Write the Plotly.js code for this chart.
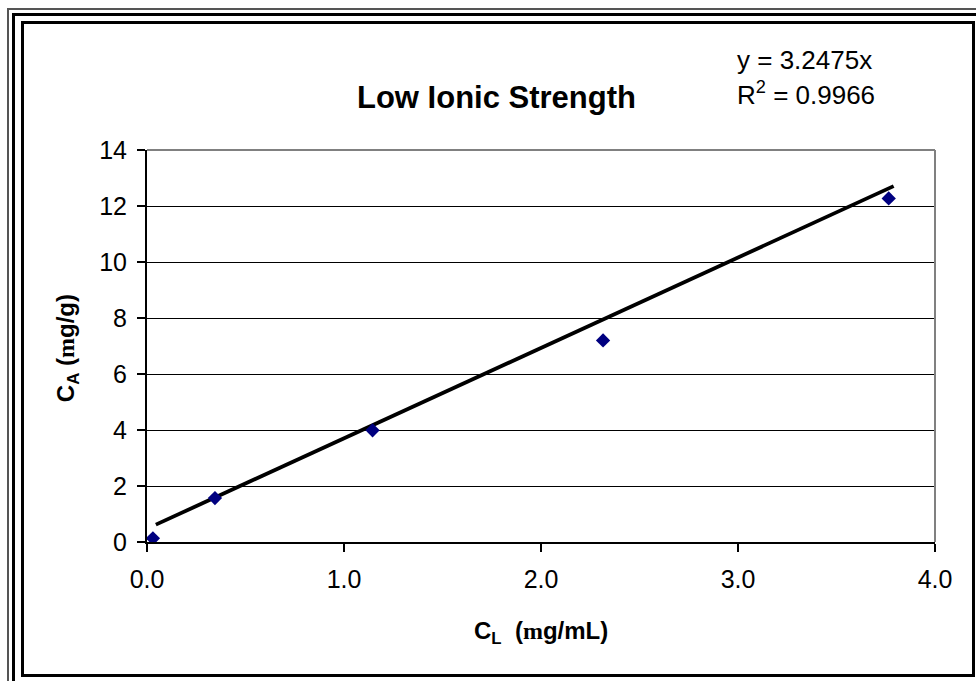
<!DOCTYPE html>
<html>
<head>
<meta charset="utf-8">
<script src="https://cdn.plot.ly/plotly-3.0.1.min.js"></script>
<style>
  html, body { margin: 0; padding: 0; background: #fff; }
  #wrap { position: relative; width: 976px; height: 681px; overflow: hidden; background: #fff; }
  #chart { position: absolute; left: 0; top: 0; width: 976px; height: 681px; }
  .fr { position: absolute; pointer-events: none; }
</style>
</head>
<body>
<div id="wrap">
  <div id="chart"></div>
  <div class="fr" style="left:7px; top:8px; width:969px; height:2px; background:#555;"></div>
  <div class="fr" style="left:7px; top:8px; width:2px; height:673px; background:#555;"></div>
  <div class="fr" style="left:12px; top:13px; width:964px; height:3px; background:#000;"></div>
  <div class="fr" style="left:12px; top:13px; width:3px; height:668px; background:#000;"></div>
  <div class="fr" style="left:21px; top:21px; width:948px; height:650px; border:3px solid #000;"></div>
</div>
<script>
// Data
const cL = [0.03, 0.345, 1.145, 2.315, 3.765];      // C_L (mg/mL)
const cA = [0.13, 1.57, 3.99, 7.2, 12.27];          // C_A (mg/g)
const trendX = [0.045, 3.79];                        // trendline endpoints (x)
const trendY = [0.62, 12.71];                        // trendline endpoints (y)
const xTicks = [0, 1, 2, 3, 4];
const xTickText = ['0.0', '1.0', '2.0', '3.0', '4.0'];
const yTicks = [0, 2, 4, 6, 8, 10, 12, 14];

const titleText = '<b>Low Ionic Strength</b>';
const eqLine1 = 'y = 3.2475x';
const eqLine2 = 'R<sup>2</sup> = 0.9966';
const xTitle = "<b>C<sub>L</sub>  (<span style='font-family:\"Liberation Serif\"'>m</span>g/mL)</b>";
const yTitle = "<b>C<sub>A</sub> (<span style='font-family:\"Liberation Serif\"'>m</span>g/g)</b>";

const FONT = 'Liberation Sans, Arial, sans-serif';

const traces = [
  {
    x: trendX, y: trendY, type: 'scatter', mode: 'lines',
    line: { color: '#000', width: 3.8 }, hoverinfo: 'skip', showlegend: false
  },
  {
    x: cL, y: cA, type: 'scatter', mode: 'markers',
    marker: { symbol: 'diamond', size: 11, color: '#000080', line: { width: 0 } },
    showlegend: false
  }
];

const layout = {
  width: 976, height: 681,
  margin: { l: 147, r: 41, t: 150, b: 139 },
  paper_bgcolor: '#fff', plot_bgcolor: '#fff',
  font: { family: FONT, color: '#000', size: 25 },
  showlegend: false,
  xaxis: {
    range: [0, 4], tickvals: xTicks, ticktext: xTickText,
    showgrid: false, zeroline: false,
    showline: true, linecolor: '#000', linewidth: 2,
    ticks: 'outside', ticklen: 8, tickwidth: 2, tickcolor: '#000',
    ticklabelstandoff: 6,
    tickfont: { family: FONT, size: 25, color: '#000' },
    fixedrange: true
  },
  yaxis: {
    range: [0, 14], tickvals: yTicks,
    showgrid: true, gridcolor: '#000', gridwidth: 1,
    zeroline: false,
    showline: true, linecolor: '#000', linewidth: 2,
    ticks: 'outside', ticklen: 8, tickwidth: 2, tickcolor: '#000',
    ticklabelstandoff: 5,
    tickfont: { family: FONT, size: 25, color: '#000' },
    fixedrange: true
  },
  shapes: [
    { type: 'line', xref: 'paper', yref: 'paper', x0: 0, x1: 1, y0: 1, y1: 1, line: { color: '#808080', width: 2 } },
    { type: 'line', xref: 'paper', yref: 'paper', x0: 1, x1: 1, y0: 0, y1: 1, line: { color: '#808080', width: 2 } }
  ],
  annotations: [
    { text: titleText, xref: 'paper', yref: 'paper', x: 0.444, y: 1.135, xanchor: 'center', yanchor: 'middle',
      showarrow: false, font: { family: FONT, size: 31, color: '#000' } },
    { text: eqLine1, xref: 'paper', yref: 'paper', x: 0.746, y: 1.23, xanchor: 'left', yanchor: 'middle',
      showarrow: false, font: { family: FONT, size: 26, color: '#000' } },
    { text: eqLine2, xref: 'paper', yref: 'paper', x: 0.746, y: 1.145, xanchor: 'left', yanchor: 'middle',
      showarrow: false, font: { family: FONT, size: 26, color: '#000' } },
    { text: xTitle, xref: 'paper', yref: 'paper', x: 0.5, y: -0.23, xanchor: 'center', yanchor: 'middle',
      showarrow: false, font: { family: FONT, size: 24, color: '#000' } },
    { text: yTitle, xref: 'paper', yref: 'paper', x: -0.1, y: 0.495, xanchor: 'center', yanchor: 'middle',
      textangle: -90, showarrow: false, font: { family: FONT, size: 24, color: '#000' } }
  ]
};

Plotly.newPlot('chart', traces, layout, { displayModeBar: false, staticPlot: true });
</script>
</body>
</html>
